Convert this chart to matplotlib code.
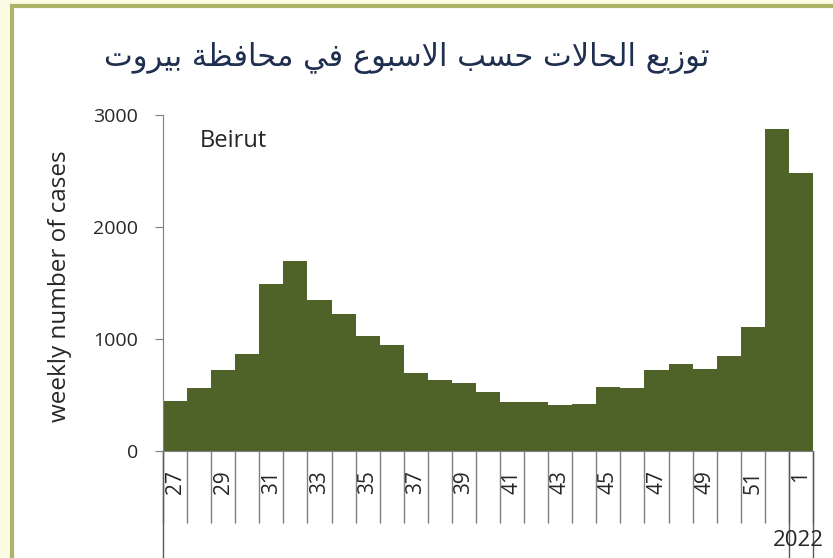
import numpy as np
import matplotlib
matplotlib.use('Agg')
import matplotlib.pyplot as plt
import matplotlib.patches as patches
import matplotlib.transforms as mtransforms

# weekly cases, Beirut (weeks 27..52 of 2021, then week 1 of 2022)
weeks = [27, 28, 29, 30, 31, 32, 33, 34, 35, 36, 37, 38, 39,
         40, 41, 42, 43, 44, 45, 46, 47, 48, 49, 50, 51, 52, 1]
cases = [450, 560, 725, 870, 1490, 1695, 1350, 1225, 1030, 950, 695, 635, 605,
         530, 435, 435, 410, 420, 575, 560, 725, 775, 730, 850, 1110, 2875, 2485]
yticks = [0, 1000, 2000, 3000]
title = 'توزيع الحالات حسب الاسبوع في محافظة بيروت'
region = 'Beirut'
ylabel = 'weekly number of cases'
year = '2022'

# presentation forms (isolated, final, initial, medial) so the Arabic joins up
FORMS = {
    'ا': ('\uFE8D', '\uFE8E', None, None),
    'ب': ('\uFE8F', '\uFE90', '\uFE91', '\uFE92'),
    'ة': ('\uFE93', '\uFE94', None, None),
    'ت': ('\uFE95', '\uFE96', '\uFE97', '\uFE98'),
    'ح': ('\uFEA1', '\uFEA2', '\uFEA3', '\uFEA4'),
    'ر': ('\uFEAD', '\uFEAE', None, None),
    'ز': ('\uFEAF', '\uFEB0', None, None),
    'س': ('\uFEB1', '\uFEB2', '\uFEB3', '\uFEB4'),
    'ظ': ('\uFEC5', '\uFEC6', '\uFEC7', '\uFEC8'),
    'ع': ('\uFEC9', '\uFECA', '\uFECB', '\uFECC'),
    'ف': ('\uFED1', '\uFED2', '\uFED3', '\uFED4'),
    'ل': ('\uFEDD', '\uFEDE', '\uFEDF', '\uFEE0'),
    'م': ('\uFEE1', '\uFEE2', '\uFEE3', '\uFEE4'),
    'و': ('\uFEED', '\uFEEE', None, None),
    'ي': ('\uFEF1', '\uFEF2', '\uFEF3', '\uFEF4'),
    'لا': ('\uFEFB', '\uFEFC', None, None),
}


def shape_arabic(text):
    toks = []
    i = 0
    while i < len(text):
        if text[i] == 'ل' and i + 1 < len(text) and text[i + 1] == 'ا':
            toks.append('لا')
            i += 2
        else:
            toks.append(text[i])
            i += 1
    out = []
    for k, t in enumerate(toks):
        if t not in FORMS:
            out.append(t)
            continue
        iso, fin, ini, med = FORMS[t]
        prev = toks[k - 1] if k > 0 else None
        nxt = toks[k + 1] if k + 1 < len(toks) else None
        jp = prev in FORMS and FORMS[prev][2] is not None
        jn = ini is not None and nxt in FORMS
        if jp and jn:
            out.append(med)
        elif jp:
            out.append(fin)
        elif jn:
            out.append(ini)
        else:
            out.append(iso)
    return ''.join(reversed(out))


W, H = 833, 558
fig = plt.figure(figsize=(W / 100, H / 100), dpi=100, facecolor='#fcfce4')

# chart frame (kept behind the axes)
frame = patches.Rectangle((12 / W, -0.05), 1.0, 1.05 - 6 / H,
                          transform=fig.transFigure, facecolor='white',
                          edgecolor='#aab56c', linewidth=3, zorder=-10)
fig.patches.append(frame)

ax = fig.add_axes([163 / W, 1 - 451 / H, 650 / W, 336 / H])
ax.set_facecolor('none')
x = np.arange(len(weeks))
ax.bar(x, cases, width=1.0, color='#4f6228', linewidth=0)

ax.set_xlim(-0.5, len(weeks) - 0.5)
ax.set_ylim(0, 3000)
ax.set_yticks(yticks)
ax.set_yticklabels([str(v) for v in yticks], fontsize=14, color='#262626',
                   family='Open Sans')
ax.tick_params(axis='y', direction='out', length=6, color='#7f7f7f', pad=12)

# every other week labelled, separator ticks between the bars
ax.set_xticks(x[::2])
ax.set_xticklabels([str(w) for w in weeks[::2]], rotation=90, fontsize=15,
                   color='#262626', va='top', family='Open Sans')
ax.set_xticks(np.arange(len(weeks) + 1) - 0.5, minor=True)
ax.tick_params(axis='x', which='major', length=0, pad=14)
ax.tick_params(axis='x', which='minor', direction='out', length=52,
               color='#7f7f7f', width=1)

for s in ['top', 'right']:
    ax.spines[s].set_visible(False)
for s in ['left', 'bottom']:
    ax.spines[s].set_color('#7f7f7f')

# long separators for the year grouping
trans = mtransforms.blended_transform_factory(ax.transData, ax.transAxes)
for xb in [-0.5, len(weeks) - 1.5, len(weeks) - 0.5]:
    ax.plot([xb, xb], [0, -0.33], transform=trans, color='#595959',
            linewidth=1, clip_on=False)
ax.text(len(weeks) - 1.1, -0.284, year, transform=trans, ha='center',
        va='baseline', fontsize=16, color='#262626', family='Open Sans')

ax.text(0.057, 0.905, region, transform=ax.transAxes, ha='left',
        va='baseline', fontsize=17, color='#262626', family='Open Sans')

fig.text(60 / W, 1 - 286 / H, ylabel, rotation=90, ha='center',
         va='center', fontsize=17.5, color='#262626', family='Open Sans')

fig.text(407 / W, 1 - 58 / H, shape_arabic(title), ha='center', va='center',
         fontsize=22, color='#1f2f4f', family='DejaVu Sans')

fig.savefig('out.png', dpi=100, facecolor=fig.get_facecolor())
